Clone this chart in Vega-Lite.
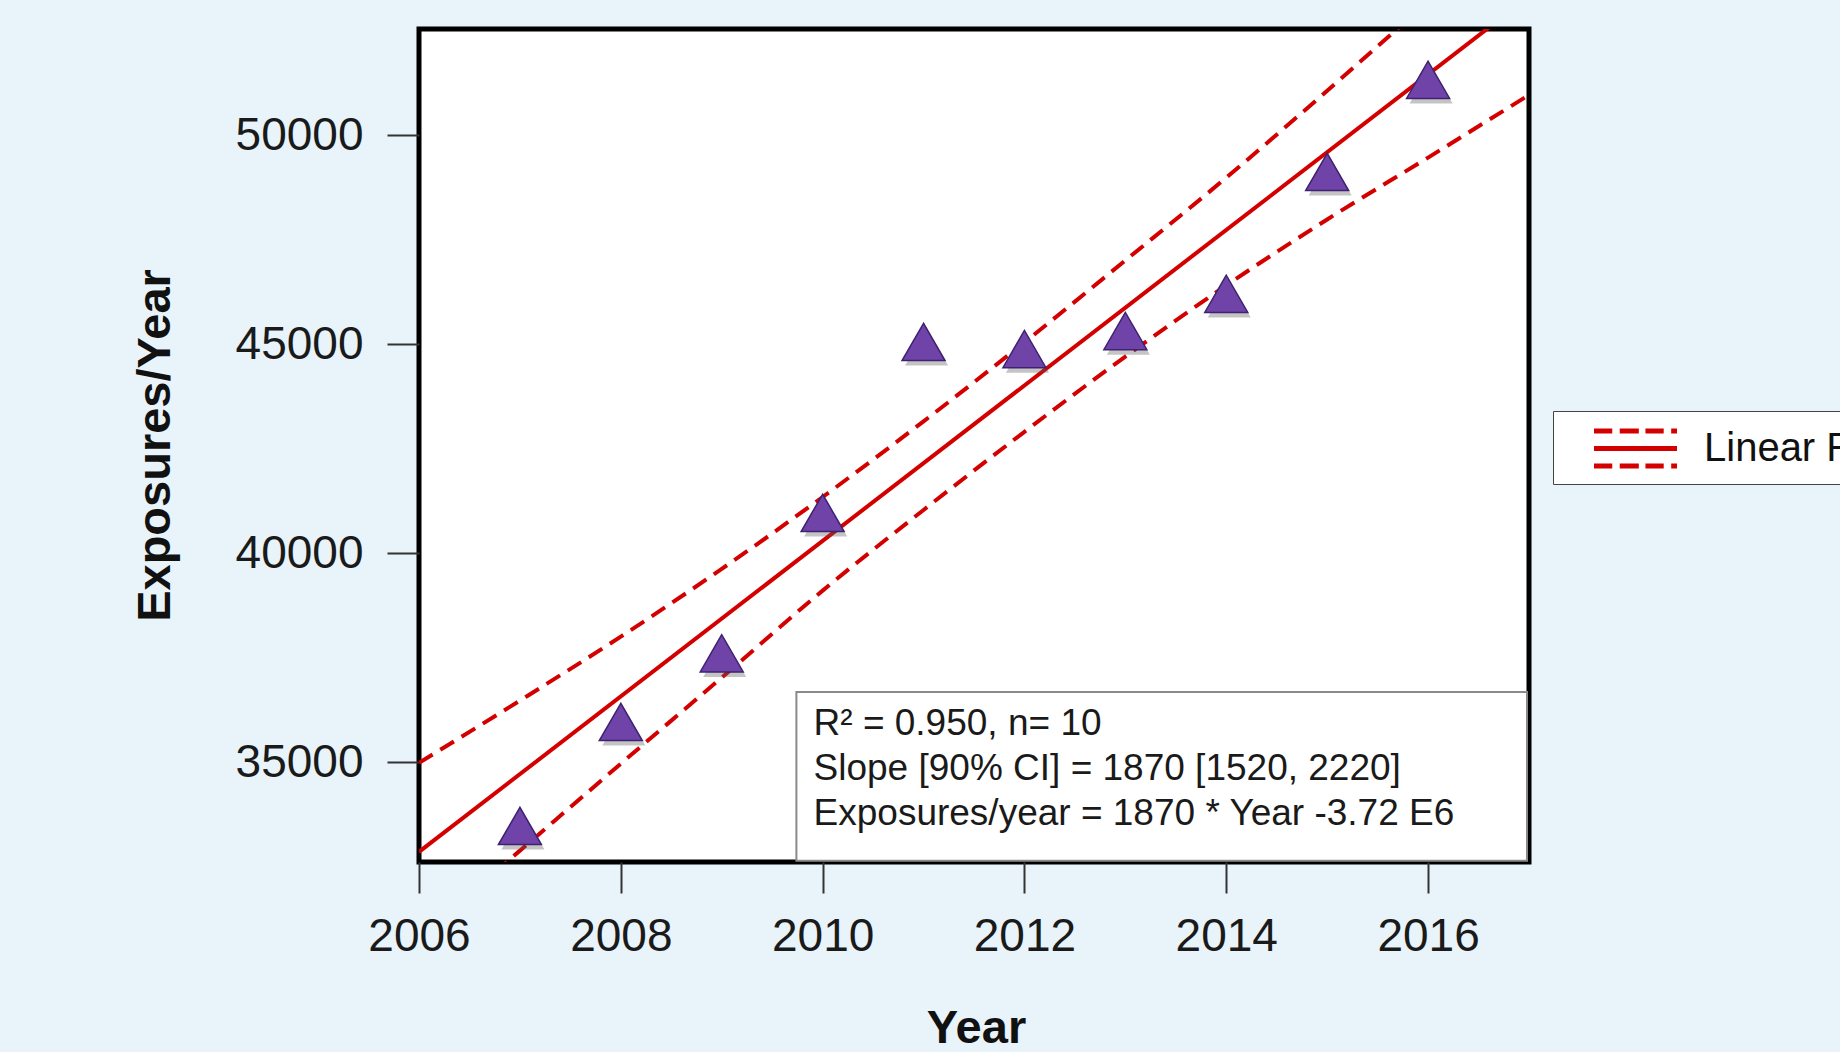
{
  "$schema": "https://vega.github.io/schema/vega-lite/v6.json",
  "width": 1110,
  "height": 833,
  "autosize": {"type": "none"},
  "padding": {"left": 419, "top": 29, "right": 311, "bottom": 190},
  "background": "#e8f3fa",
  "config": {
    "view": {"stroke": "#000000", "strokeWidth": 5, "fill": "#ffffff"},
    "font": "Liberation Sans"
  },
  "datasets": {
    "points": [
      {"year": 2007, "value": 33470},
      {"year": 2008, "value": 35960},
      {"year": 2009, "value": 37600},
      {"year": 2010, "value": 40960},
      {"year": 2011, "value": 45050},
      {"year": 2012, "value": 44880},
      {"year": 2013, "value": 45310},
      {"year": 2014, "value": 46200},
      {"year": 2015, "value": 49115},
      {"year": 2016, "value": 51320}
    ],
    "fit": [
      {"year": 2006, "value": 32850},
      {"year": 2017, "value": 53310}
    ],
    "band": [
      {"band": "upper", "year": 2006, "value": 34980},
      {"band": "upper", "year": 2007, "value": 36470},
      {"band": "upper", "year": 2008, "value": 38000},
      {"band": "upper", "year": 2009, "value": 39620},
      {"band": "upper", "year": 2010, "value": 41340},
      {"band": "upper", "year": 2011, "value": 43150},
      {"band": "upper", "year": 2012, "value": 45040},
      {"band": "upper", "year": 2013, "value": 47000},
      {"band": "upper", "year": 2014, "value": 48980},
      {"band": "upper", "year": 2015, "value": 51060},
      {"band": "upper", "year": 2016, "value": 53200},
      {"band": "upper", "year": 2017, "value": 55400},
      {"band": "lower", "year": 2006, "value": 30800},
      {"band": "lower", "year": 2007, "value": 32880},
      {"band": "lower", "year": 2008, "value": 34960},
      {"band": "lower", "year": 2009, "value": 37020},
      {"band": "lower", "year": 2010, "value": 39100},
      {"band": "lower", "year": 2011, "value": 41030},
      {"band": "lower", "year": 2012, "value": 42900},
      {"band": "lower", "year": 2013, "value": 44700},
      {"band": "lower", "year": 2014, "value": 46400},
      {"band": "lower", "year": 2015, "value": 47980},
      {"band": "lower", "year": 2016, "value": 49460},
      {"band": "lower", "year": 2017, "value": 50960}
    ],
    "stats": [
      {"line": ["R² = 0.950, n= 10", "Slope [90% CI] = 1870 [1520, 2220]", "Exposures/year = 1870 * Year -3.72 E6"]}
    ]
  },
  "layer": [
    {
      "data": {"name": "band"},
      "mark": {"type": "line", "color": "#d40000", "strokeWidth": 4, "strokeDash": [16, 9], "clip": true, "interpolate": "monotone"},
      "encoding": {
        "x": {
          "field": "year",
          "type": "quantitative",
          "title": "Year",
          "scale": {"domain": [2006, 2017], "nice": false, "zero": false},
          "axis": {
            "title": "Year",
            "values": [2006, 2008, 2010, 2012, 2014, 2016],
            "format": "d",
            "domain": false,
            "grid": false,
            "tickSize": 31,
            "tickWidth": 2,
            "tickColor": "#333333",
            "labelFontSize": 46,
            "labelFont": "Liberation Sans",
            "labelColor": "#1a1a1a",
            "labelPadding": 21,
            "labelFlush": false,
            "labelOverlap": false,
            "titleFont": "Liberation Sans",
            "titleFontSize": 47,
            "titleFontWeight": "bold",
            "titleColor": "#111111",
            "titleX": 557,
            "titleY": 180,
            "titleBaseline": "alphabetic",
            "titleAlign": "center"
          }
        },
        "y": {
          "field": "value",
          "type": "quantitative",
          "title": "Exposures/Year",
          "scale": {"domain": [32608, 52536], "nice": false, "zero": false},
          "axis": {
            "title": "Exposures/Year",
            "values": [35000, 40000, 45000, 50000],
            "format": "d",
            "domain": false,
            "grid": false,
            "tickSize": 32,
            "tickWidth": 2,
            "tickColor": "#333333",
            "labelFontSize": 46,
            "labelFont": "Liberation Sans",
            "labelColor": "#1a1a1a",
            "labelPadding": 24,
            "labelOverlap": false,
            "titleFont": "Liberation Sans",
            "titleFontSize": 47,
            "titleFontWeight": "bold",
            "titleColor": "#111111",
            "titleAngle": 270,
            "titleX": -250,
            "titleY": 416,
            "titleBaseline": "alphabetic",
            "titleAlign": "center"
          }
        },
        "detail": {"field": "band", "type": "nominal"}
      }
    },
    {
      "data": {"name": "fit"},
      "mark": {"type": "line", "strokeWidth": 4, "clip": true},
      "encoding": {
        "x": {"field": "year", "type": "quantitative", "title": "Year"},
        "y": {"field": "value", "type": "quantitative", "title": "Exposures/Year"},
        "color": {
          "datum": "Linear Regression",
          "scale": {"range": ["#d40000"]},
          "legend": {
            "title": null,
            "orient": "none",
            "legendX": 1134,
            "legendY": 382,
            "symbolType": "M-1.537,-0.648H-0.861M-0.584,-0.648H0.123M0.369,-0.648H1.045M1.322,-0.648H1.537M-1.537,0H1.537M-1.537,0.648H-0.861M-0.584,0.648H0.123M0.369,0.648H1.045M1.322,0.648H1.537",
            "symbolSize": 2916,
            "symbolStrokeWidth": 5,
            "symbolFillColor": "transparent",
            "symbolOffset": 45,
            "labelFontSize": 40,
            "labelFont": "Liberation Sans",
            "labelColor": "#111111",
            "labelOffset": 39,
            "labelLimit": 0,
            "padding": 8,
            "strokeColor": "#444444",
            "fillColor": "#ffffff"
          }
        }
      }
    },
    {
      "data": {"name": "stats"},
      "mark": {"type": "rect", "fill": "#ffffff", "stroke": "#8a8a8a", "strokeWidth": 2},
      "encoding": {
        "x": {"datum": 2009.74, "type": "quantitative"},
        "x2": {"datum": 2016.98},
        "y": {"datum": 36675, "type": "quantitative"},
        "y2": {"datum": 32640}
      }
    },
    {
      "data": {"name": "stats"},
      "mark": {
        "type": "text",
        "align": "left",
        "baseline": "middle",
        "fontSize": 37,
        "font": "Liberation Sans",
        "color": "#1a1a1a",
        "lineHeight": 45
      },
      "encoding": {
        "x": {"datum": 2009.91, "type": "quantitative"},
        "y": {"datum": 35909, "type": "quantitative"},
        "text": {"field": "line"}
      }
    },
    {
      "data": {"name": "points"},
      "mark": {"type": "point", "shape": "triangle-up", "filled": true, "size": 1850, "color": "#555555", "opacity": 0.35, "xOffset": 3, "yOffset": 5},
      "encoding": {
        "x": {"field": "year", "type": "quantitative", "title": "Year"},
        "y": {"field": "value", "type": "quantitative", "title": "Exposures/Year"}
      }
    },
    {
      "data": {"name": "points"},
      "mark": {"type": "point", "shape": "triangle-up", "filled": true, "size": 1850, "fill": "#7043a8", "stroke": "#3e2270", "strokeWidth": 1.5, "opacity": 1},
      "encoding": {
        "x": {"field": "year", "type": "quantitative", "title": "Year"},
        "y": {"field": "value", "type": "quantitative", "title": "Exposures/Year"}
      }
    }
  ]
}
